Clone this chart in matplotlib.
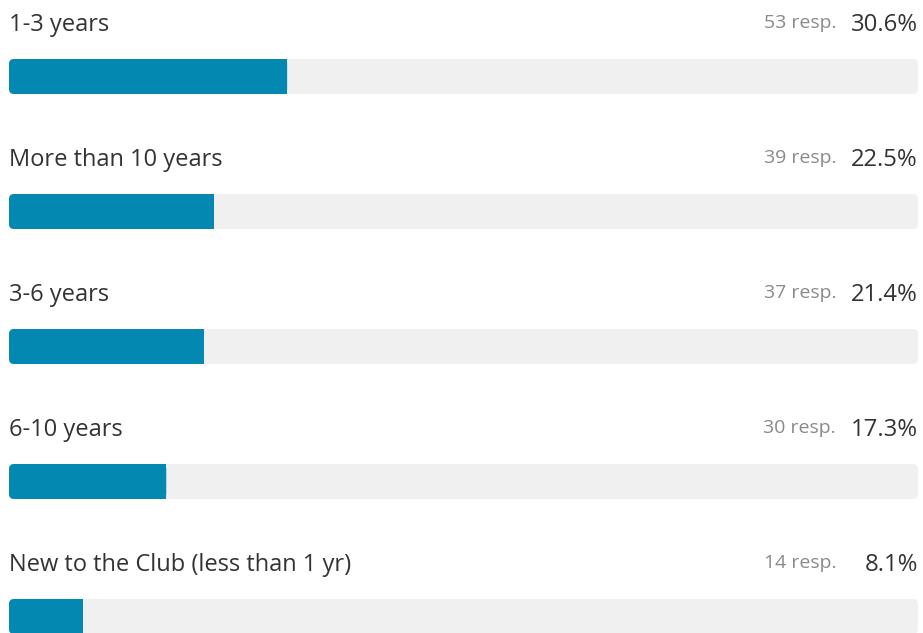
import matplotlib
matplotlib.use("Agg")
import matplotlib.pyplot as plt
from matplotlib.patches import FancyBboxPatch, Rectangle

categories = ["1-3 years", "More than 10 years", "3-6 years", "6-10 years",
              "New to the Club (less than 1 yr)"]
responses = [53, 39, 37, 30, 14]
percents = [30.6, 22.5, 21.4, 17.3, 8.1]

W, H = 923, 633
fig = plt.figure(figsize=(W / 100, H / 100), dpi=100)
fig.patch.set_facecolor("white")
left_px, right_px = 9, 918
ax = fig.add_axes([left_px / W, 0, (right_px - left_px) / W, 1])
ax.set_xlim(0, 100)
ax.set_ylim(H, 0)
ax.axis("off")

px_per_x = (right_px - left_px) / 100.0
r_px = 5.0
r_x = r_px / px_per_x
aspect = px_per_x

font = ["Open Sans", "DejaVu Sans"]
blue = "#0288B1"
track = "#F0F0F0"
pitch = 135
bar_top0 = 59
bar_h = 35
base0 = 31

for i, (cat, n, p) in enumerate(zip(categories, responses, percents)):
    top = bar_top0 + i * pitch
    base = base0 + i * pitch
    tr = FancyBboxPatch((0, top), 100, bar_h,
                        boxstyle=f"round,pad=0,rounding_size={r_x}",
                        mutation_aspect=aspect, fc=track, ec="none")
    ax.add_patch(tr)
    fb = FancyBboxPatch((0, top), p, bar_h,
                        boxstyle=f"round,pad=0,rounding_size={r_x}",
                        mutation_aspect=aspect, fc=blue, ec="none")
    ax.add_patch(fb)
    ax.add_patch(Rectangle((p - r_x, top), r_x, bar_h, fc=blue, ec="none"))
    ax.text(0, base, cat, fontsize=17, color="#333333", family=font,
            ha="left", va="baseline")
    ax.text(100, base, f"{p}%", fontsize=17.2, color="#333333", family=font,
            ha="right", va="baseline")
    ax.text((836 - left_px) / px_per_x, base - 3, f"{n} resp.", fontsize=14,
            color="#8a8a8a", family=font, ha="right", va="baseline")

fig.savefig("out.png", dpi=100, facecolor="white")
